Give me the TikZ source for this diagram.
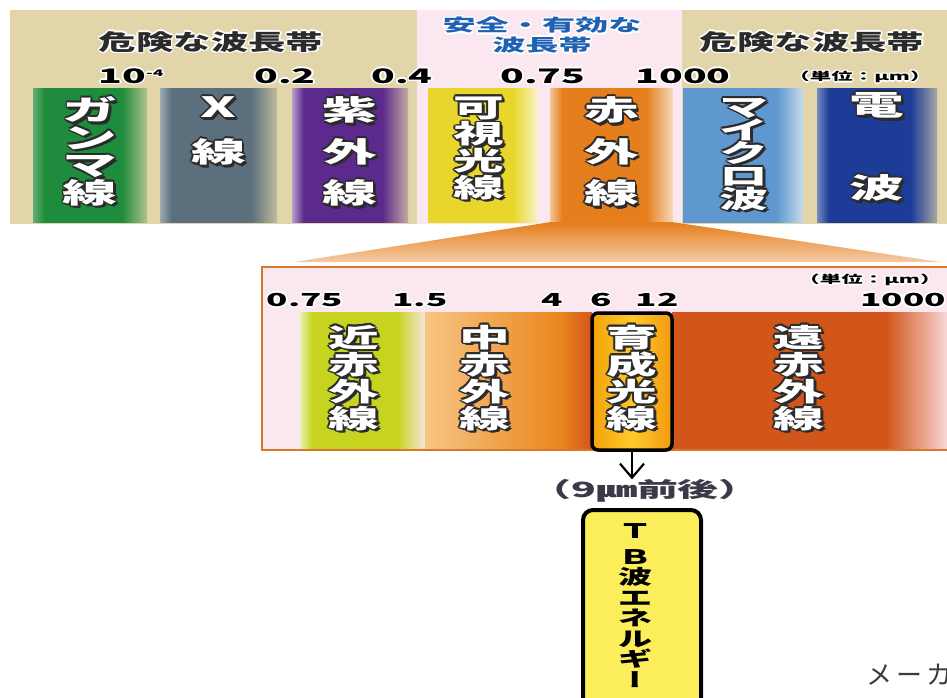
\documentclass[tikz,border=0pt]{standalone}
\usepackage{fontspec}
\usepackage{graphicx}
\usepackage{array}
\usetikzlibrary{arrows.meta, positioning}

\newfontfamily\jp{Noto Sans CJK JP}
\newfontfamily\jpw{Noto Sans CJK JP}[FakeStretch=1.95]
\newfontfamily\jpn{Noto Sans CJK JP}[FakeStretch=1.7]

\definecolor{tanbg}{HTML}{E2D5AA}
\definecolor{pinkbg}{HTML}{FBE7EF}
\definecolor{cgam}{HTML}{1E8C3C}
\definecolor{cxr}{HTML}{5B6F7C}
\definecolor{cuv}{HTML}{5C2A8C}
\definecolor{cvis}{HTML}{E8D62C}
\definecolor{cir}{HTML}{E57E1C}
\definecolor{cmw}{HTML}{5E98CE}
\definecolor{crad}{HTML}{1C3C98}
\definecolor{cnear}{HTML}{C6D420}
\definecolor{cfar}{HTML}{D2561A}
\definecolor{midl}{HTML}{F7C583}
\definecolor{midr}{HTML}{EA861E}
\definecolor{ikl}{HTML}{F2A20C}
\definecolor{ikc}{HTML}{FFC92A}
\definecolor{ikr}{HTML}{F39A10}
\definecolor{olc}{HTML}{2B2B2B}
\definecolor{safeblue}{HTML}{1F62B4}
\definecolor{framec}{HTML}{D9782A}
\definecolor{tbyel}{HTML}{FCEE5A}
\definecolor{distc}{HTML}{3A3A48}
\definecolor{makerc}{HTML}{3C3C3C}

% band shading: faded edges, solid middle
\colorlet{bandl}{white}\colorlet{bandc}{white}\colorlet{bandr}{white}
\pgfdeclarehorizontalshading[bandl,bandc,bandr]{band}{100bp}{color(0bp)=(bandl); color(25bp)=(bandl); color(30bp)=(bandc); color(64bp)=(bandc); color(75bp)=(bandr); color(100bp)=(bandr)}

% column of letters, one per row, rows exactly \baselineskip apart
\newcolumntype{V}{>{\setbox0=\hbox\bgroup}c<{\egroup\smash{\box0}}}
% text with a halo round it
\newcommand\hoff[3]{\rlap{\kern#1\raisebox{#2}{#3}}}
\newcommand\halo[3]{{\color{#2}\hoff{1.6pt}{0pt}{#3}\hoff{-1.6pt}{0pt}{#3}\hoff{0pt}{1.6pt}{#3}\hoff{0pt}{-1.6pt}{#3}%
  \hoff{1.2pt}{1.2pt}{#3}\hoff{-1.2pt}{1.2pt}{#3}\hoff{1.2pt}{-1.2pt}{#3}\hoff{-1.2pt}{-1.2pt}{#3}}\textcolor{#1}{#3}}
% white letters with a dark rim and shadow
\newcommand\rim[1]{{\color{olc}\hoff{1.7pt}{0pt}{#1}\hoff{-1.7pt}{0pt}{#1}\hoff{0pt}{1.7pt}{#1}\hoff{0pt}{-1.7pt}{#1}%
  \hoff{1.2pt}{1.2pt}{#1}\hoff{-1.2pt}{1.2pt}{#1}\hoff{1.2pt}{-1.2pt}{#1}\hoff{-1.2pt}{-1.2pt}{#1}%
  \hoff{2.5pt}{-2.5pt}{#1}\hoff{2pt}{-2.8pt}{#1}}\textcolor{white}{#1}}
\newcommand\vhalo[3]{\halo{#1}{#2}{\begin{tabular}{@{}c@{}}#3\end{tabular}}}
\newcommand\vrim[1]{\rim{\begin{tabular}[t]{@{}V@{}}#1\end{tabular}}}

\begin{document}
\begin{tikzpicture}[x=1pt, y=-1pt,
every node/.append style = {inner sep=0pt},
  band/.style n args = {3}{/utils/exec={\colorlet{bandl}{#1}\colorlet{bandc}{#2}\colorlet{bandr}{#3}},
                           shade, shading=band, minimum height=134},
  vlbl/.style = {font=\jpw\bfseries\fontsize{28}{#1}\selectfont, anchor=base},
  plbl/.style = {font=\jpw\bfseries\fontsize{26}{27}\selectfont, anchor=base},
   hdr/.style = {font=\jpn\bfseries\fontsize{22}{22}\selectfont},
  safe/.style = {font=\jpw\bfseries\fontsize{17}{17}\selectfont},
   num/.style = {font=\jpw\bfseries\fontsize{20}{20}\selectfont},
  snum/.style = {font=\jpw\bfseries\fontsize{18}{18}\selectfont},
  unit/.style = {font=\jpw\bfseries\fontsize{11}{11}\selectfont},
 ikbox/.style = {rounded corners=6pt, draw=black, line width=3.5pt,
                 left color=ikl, right color=ikr, middle color=ikc},
 tbbox/.style = {rounded corners=10pt, draw=black, line width=4pt, fill=tbyel},
   pil/.style = {line width=2.2pt, -{Straight Barb[length=14pt,width=24pt]}}
                    ]
\useasboundingbox (0,0) rectangle (947,697);
\clip (0,0) rectangle (947,697);
\fill[white] (0,0) rectangle (947,697);
% backgrounds
\fill[tanbg]  (10,10)  rectangle (417,224);
\fill[pinkbg] (417,10) rectangle (682,224);
\fill[tanbg]  (682,10) rectangle (947,224);
%nodes
\node (dangerl) [hdr] at (211,42) {\halo{olc}{white}{危険な波長帯}};
\node (dangerr) [hdr] at (812,42) {\halo{olc}{white}{危険な波長帯}};
\node (safe)    [safe] at (542,37) {\vhalo{safeblue}{white}{安全・有効な\\波長帯}};
%
\node (t1) [num] at (131,76) {\halo{black}{white}{10\raisebox{7pt}{\fontsize{9}{9}\selectfont -4}}};
\node (t2) [num] at (285,76) {\halo{black}{white}{0.2}};
\node (t3) [num] at (402,76) {\halo{black}{white}{0.4}};
\node (t4) [num] at (543,76) {\halo{black}{white}{0.75}};
\node (t5) [num] at (683,76) {\halo{black}{white}{1000}};
\node (u1) [unit] at (860,77) {\halo{black}{white}{（単位：μm）}};
% spectrum
\node (gamma) [band={cgam!70!white}{cgam}{cgam!25!tanbg}, minimum width=114] at (90,155) {};
\node (xray)  [band={cxr!60!white}{cxr}{cxr!25!tanbg}, minimum width=117] at (218.5,155) {};
\node (uv)    [band={cuv!45!white}{cuv}{cuv!25!tanbg}, minimum width=116] at (350,155) {};
\node (vis)   [band={cvis}{cvis}{cvis!30!white}, minimum width=109] at (482.5,155) {};
\node (ir)    [band={cir!45!white}{cir}{cir!30!white}, minimum width=123] at (611.5,155) {};
\node (mw)    [band={cmw}{cmw}{cmw!35!white}, minimum width=120] at (743,155) {};
\node (radio) [band={crad!60!white}{crad}{crad!30!tanbg}, minimum width=120] at (877,155) {};
%
\node (gammalbl) [vlbl=27.5] at (90,120.5)   {\vrim{ガ\\ン\\マ\\線}};
\node (xraylbl)  [vlbl=45]   at (218.5,117.4) {\vrim{X\\線}};
\node (uvlbl)    [vlbl=41.5] at (350,120.5)  {\vrim{紫\\外\\線}};
\node (vislbl)   [vlbl=26.7, font=\jpw\bfseries\fontsize{26}{26.7}\selectfont]
                             at (479,117)    {\vrim{可\\視\\光\\線}};
\node (irlbl)    [vlbl=41.5] at (611.5,120.5) {\vrim{赤\\外\\線}};
\node (mwlbl)    [vlbl=23, font=\jpw\bfseries\fontsize{25}{23}\selectfont]
                             at (744,116)    {\vrim{マ\\イ\\ク\\ロ\\波}};
\node (radiolbl) [vlbl=83]   at (877,115.5)  {\vrim{電\\波}};
% zoomed infrared
\shade[top color=cir, bottom color=cir!40!white]
      (ir.south west) -- (ir.south east) -- (940,262) -- (294,262) -- cycle;
\draw[framec, line width=2pt, fill=pinkbg] (262,267) rectangle (960,450);
\node (u2) [unit] at (870,280) {\halo{black}{white}{（単位：μm）}};
\node (s1) [snum] at (305,300) {\halo{black}{white}{0.75}};
\node (s2) [snum] at (420,300) {\halo{black}{white}{1.5}};
\node (s3) [snum] at (552,300) {\halo{black}{white}{4}};
\node (s4) [snum] at (601,300) {\halo{black}{white}{6}};
\node (s5) [snum] at (657,300) {\halo{black}{white}{12}};
\node (s6) [snum] at (903,300) {\halo{black}{white}{1000}};
%
\node (near) [band={cnear!35!white}{cnear}{cnear!10!pinkbg}, minimum width=125, minimum height=136] at (362.5,380) {};
\node (mid)  [left color=midl, right color=midr, minimum width=135, minimum height=136] at (492.5,380) {};
\node (midd) [left color=midr, right color=cfar, minimum width=32, minimum height=136] at (576,380) {};
\node (far)  [band={cfar}{cfar}{cfar!12!pinkbg}, minimum width=275, minimum height=136] at (809.5,380) {};
\node (ikusei) [ikbox, minimum width=80, minimum height=137] at (632,381.5) {};
%
\node (nearlbl) [plbl] at (354,347) {\vrim{近\\赤\\外\\線}};
\node (midlbl)  [plbl] at (485,347) {\vrim{中\\赤\\外\\線}};
\node (iklbl)   [plbl] at (632,347) {\vrim{育\\成\\光\\線}};
\node (farlbl)  [plbl] at (799,347) {\vrim{遠\\赤\\外\\線}};
% result
\node (dist) [font=\jpw\bfseries\fontsize{21}{21}\selectfont, text=distc] at (645,491) {（9㎛前後）};
\node (tb)   [tbbox, minimum width=118, minimum height=205, anchor=north] at (642,508) {};
\node (tblbl) [font=\jpn\bfseries\fontsize{20}{20.5}\selectfont, anchor=base] at (635,538)
             {\begin{tabular}[t]{@{}V@{}}Ｔ\\[5.5pt]Ｂ\\波\\エ\\ネ\\ル\\ギ\\{\addfontfeature{RawFeature=+vert}ー}\end{tabular}};
\node (maker) [font=\jp\fontsize{26}{26}\selectfont, text=makerc, anchor=west] at (866,675) {メ\kern4pt ー\kern4pt カ};
% edges
\draw[pil] (ikusei.south) -- (ikusei.south |- dist.north);
\end{tikzpicture}
\end{document}
